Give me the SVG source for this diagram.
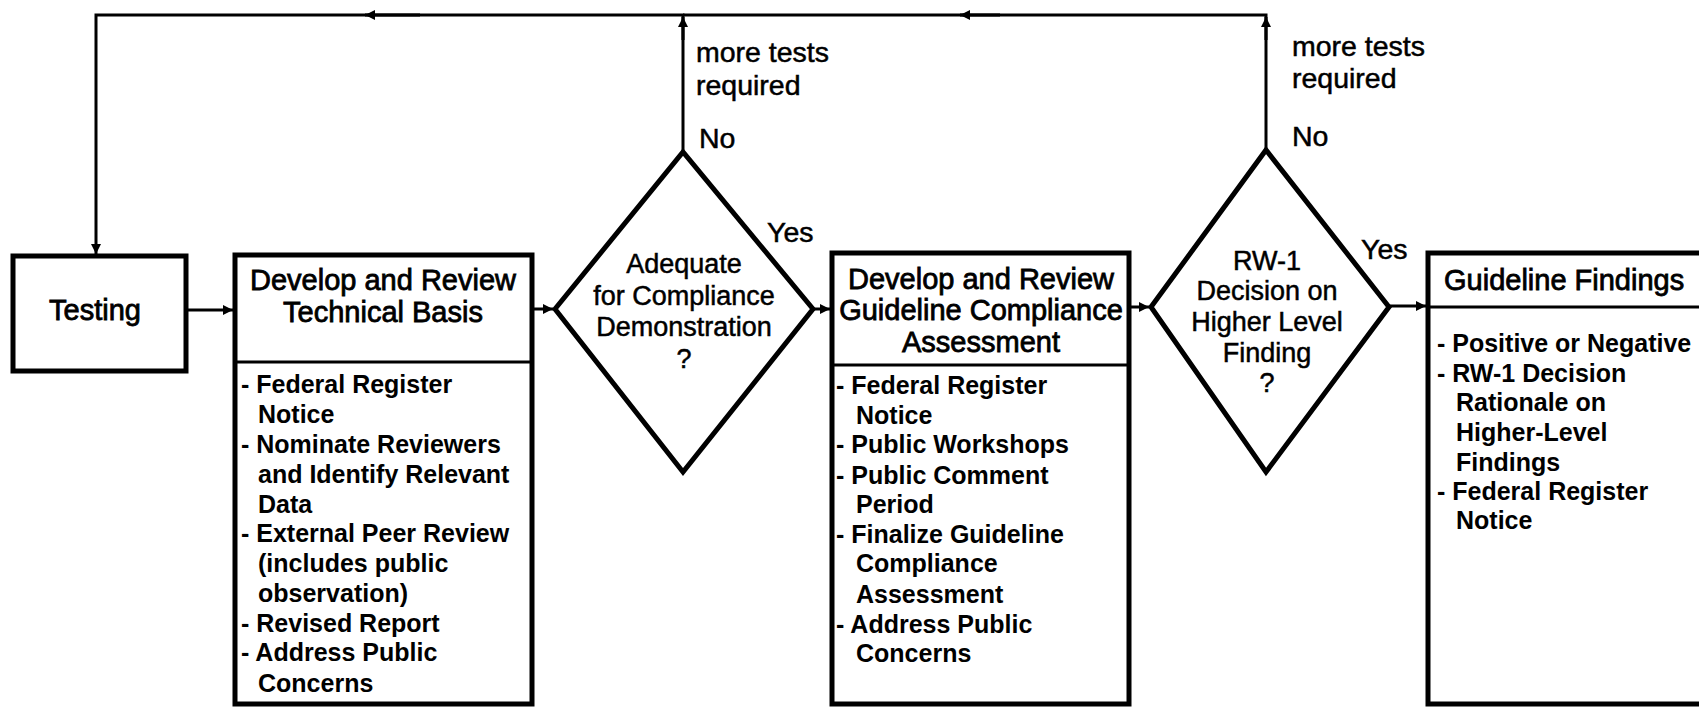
<svg xmlns="http://www.w3.org/2000/svg" width="1699" height="707" viewBox="0 0 1699 707">
<defs>
<marker id="ah" viewBox="0 0 10 10" refX="10" refY="5" markerWidth="11" markerHeight="10" markerUnits="userSpaceOnUse" orient="auto">
<path d="M0,0 L10,5 L0,10 z" fill="#000"/>
</marker>
<style>
.box{fill:#fff;stroke:#000;stroke-width:5}
.div{stroke:#000;stroke-width:3}
.dia{fill:#fff;stroke:#000;stroke-width:5;stroke-linejoin:miter}
.ln{fill:none;stroke:#000;stroke-width:3}
.t{font-family:"Liberation Sans",Arial,sans-serif;fill:#000}
.title{font-size:29px;stroke:#000;stroke-width:0.8;text-anchor:middle}
.dt{font-size:27px;stroke:#000;stroke-width:0.5;text-anchor:middle}
.lbl{font-size:28.5px;stroke:#000;stroke-width:0.5}
.li{font-size:25px;font-weight:bold}
</style>
</defs>
<rect width="1699" height="707" fill="#fff"/>

<g id="connectors">
<polyline class="ln" points="683,152 683,15 96,15 96,254" marker-end="url(#ah)"/>
<line class="ln" x1="683" y1="40" x2="683" y2="17" marker-end="url(#ah)"/>
<line class="ln" x1="420" y1="15" x2="365" y2="15" marker-end="url(#ah)"/>
<polyline class="ln" points="1266,150 1266,15 683,15" />
<line class="ln" x1="1266" y1="40" x2="1266" y2="17" marker-end="url(#ah)"/>
<line class="ln" x1="1000" y1="15" x2="960" y2="15" marker-end="url(#ah)"/>
<line class="ln" x1="186" y1="310" x2="233" y2="310" marker-end="url(#ah)"/>
<line class="ln" x1="532" y1="309" x2="553" y2="309" marker-end="url(#ah)"/>
<line class="ln" x1="813" y1="309" x2="830" y2="309" marker-end="url(#ah)"/>
<line class="ln" x1="1129" y1="307" x2="1149" y2="307" marker-end="url(#ah)"/>
<line class="ln" x1="1389" y1="306" x2="1426" y2="306" marker-end="url(#ah)"/>
<text class="t lbl" x="696" y="62">more tests</text>
<text class="t lbl" x="696" y="95">required</text>
<text class="t lbl" x="699" y="148">No</text>
<text class="t lbl" x="767" y="242">Yes</text>
<text class="t lbl" x="1292" y="56">more tests</text>
<text class="t lbl" x="1292" y="88">required</text>
<text class="t lbl" x="1292" y="146">No</text>
<text class="t lbl" x="1361" y="259">Yes</text>
</g>

<g id="testing">
<rect class="box" x="13" y="256" width="173" height="115"/>
<text class="t title" x="95" y="320">Testing</text>
</g>

<g id="technical-basis">
<rect class="box" x="235" y="255" width="297" height="449"/>
<line class="div" x1="235" y1="362" x2="532" y2="362"/>
<text class="t title" x="383" y="290">Develop and Review</text>
<text class="t title" x="383" y="322">Technical Basis</text>
<g class="t li">
<text x="241" y="393">- Federal Register</text>
<text x="258" y="423">Notice</text>
<text x="241" y="453">- Nominate Reviewers</text>
<text x="258" y="483">and Identify Relevant</text>
<text x="258" y="513">Data</text>
<text x="241" y="542">- External Peer Review</text>
<text x="258" y="572">(includes public</text>
<text x="258" y="602">observation)</text>
<text x="241" y="632">- Revised Report</text>
<text x="241" y="661">- Address Public</text>
<text x="258" y="692">Concerns</text>
</g>
</g>

<g id="adequate-decision">
<polygon class="dia" points="555,309 683,152 813,309 683,472"/>
<text class="t dt" x="684" y="273">Adequate</text>
<text class="t dt" x="684" y="305">for Compliance</text>
<text class="t dt" x="684" y="336">Demonstration</text>
<text class="t dt" x="684" y="368">?</text>
</g>

<g id="compliance-assessment">
<rect class="box" x="832" y="253" width="297" height="451"/>
<line class="div" x1="832" y1="365" x2="1129" y2="365"/>
<text class="t title" x="981" y="289">Develop and Review</text>
<text class="t title" x="981" y="320">Guideline Compliance</text>
<text class="t title" x="981" y="352">Assessment</text>
<g class="t li">
<text x="836" y="394">- Federal Register</text>
<text x="856" y="424">Notice</text>
<text x="836" y="453">- Public Workshops</text>
<text x="836" y="484">- Public Comment</text>
<text x="856" y="513">Period</text>
<text x="836" y="543">- Finalize Guideline</text>
<text x="856" y="572">Compliance</text>
<text x="856" y="603">Assessment</text>
<text x="836" y="633">- Address Public</text>
<text x="856" y="662">Concerns</text>
</g>
</g>

<g id="rw1-decision">
<polygon class="dia" points="1151,307 1266,150 1389,307 1266,472"/>
<text class="t dt" x="1267" y="270">RW-1</text>
<text class="t dt" x="1267" y="300">Decision on</text>
<text class="t dt" x="1267" y="331">Higher Level</text>
<text class="t dt" x="1267" y="362">Finding</text>
<text class="t dt" x="1267" y="392">?</text>
</g>

<g id="guideline-findings">
<rect class="box" x="1428" y="253" width="300" height="451"/>
<line class="div" x1="1428" y1="307" x2="1699" y2="307"/>
<text class="t title" x="1444" y="290" style="text-anchor:start">Guideline Findings</text>
<g class="t li">
<text x="1437" y="352">- Positive or Negative</text>
<text x="1437" y="382">- RW-1 Decision</text>
<text x="1456" y="411">Rationale on</text>
<text x="1456" y="441">Higher-Level</text>
<text x="1456" y="471">Findings</text>
<text x="1437" y="500">- Federal Register</text>
<text x="1456" y="529">Notice</text>
</g>
</g>
</svg>
